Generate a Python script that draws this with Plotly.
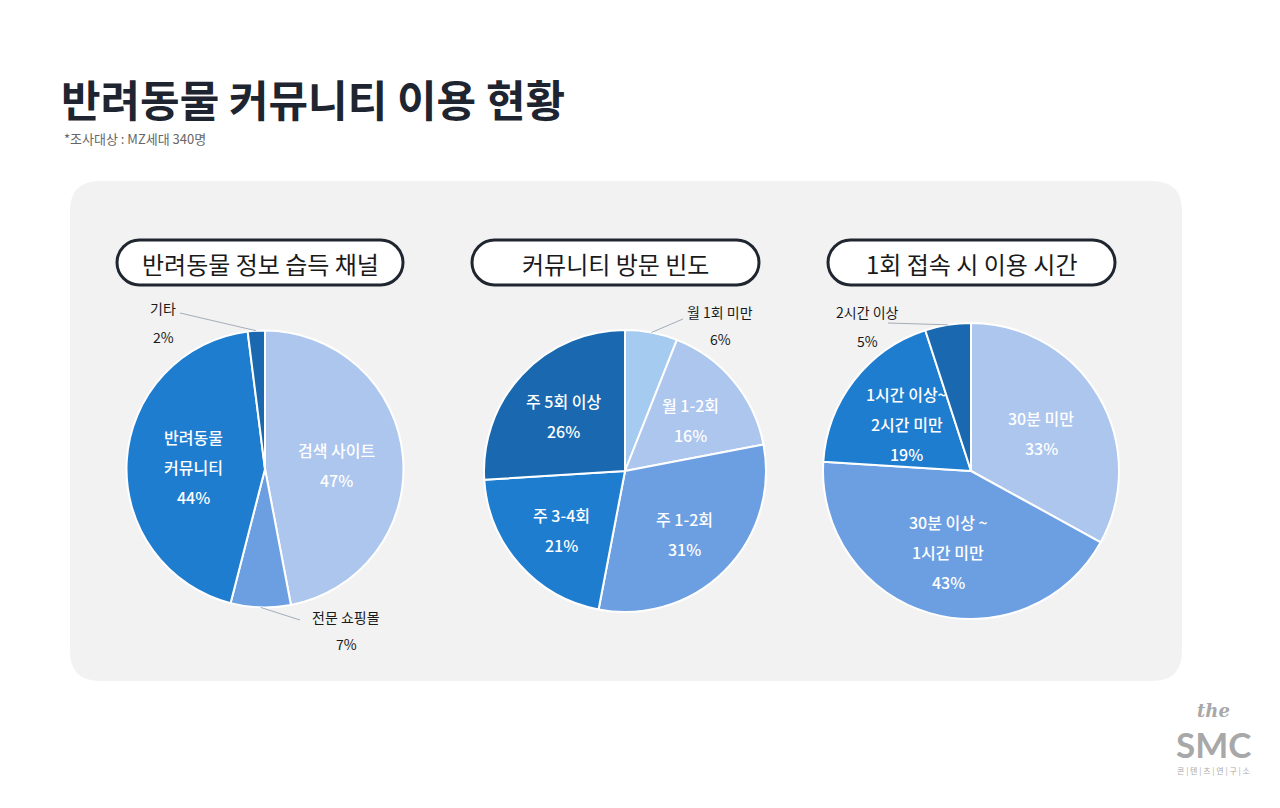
import math
import plotly.graph_objects as go

W, H = 1280, 808
OFF = 8  # the page body margin in the browser

# data
ch1_title = "반려동물 정보 습득 채널"
ch1_labels = ["검색 사이트", "전문 쇼핑몰", "반려동물<br>커뮤니티", "기타"]
ch1_values = [47, 7, 44, 2]

ch2_title = "커뮤니티 방문 빈도"
ch2_labels = ["월 1회 미만", "월 1-2회", "주 1-2회", "주 3-4회", "주 5회 이상"]
ch2_values = [6, 16, 31, 21, 26]

ch3_title = "1회 접속 시 이용 시간"
ch3_labels = ["30분 미만", "30분 이상 ~<br>1시간 미만", "1시간 이상~<br>2시간 미만", "2시간 이상"]
ch3_values = [33, 43, 19, 5]

c_xlight = "#a6cbf0"
c_light = "#adc6ee"
c_mid = "#6c9fe2"
c_blue = "#1f7dd0"
c_dark = "#1a69b0"

ch1_colors = [c_light, c_mid, c_blue, c_dark]
ch2_colors = [c_xlight, c_light, c_mid, c_blue, c_dark]
ch3_colors = [c_light, c_mid, c_blue, c_dark]

FONT = "Noto Sans CJK KR"

# layout: (title, labels, values, colors, center x, center y, radius, inside label factor,
#          outside labels {index: (tail x, tail y, text x, name y, pct y)})
charts = [
    (ch1_title, ch1_labels, ch1_values, ch1_colors, 265, 469, 138.5, 0.52,
     {1: (300, 620, 346, 617, 644), 3: (180, 313, 163, 308, 337)}),
    (ch2_title, ch2_labels, ch2_values, ch2_colors, 625, 471, 141, 0.6,
     {0: (683, 319, 720, 312, 339)}),
    (ch3_title, ch3_labels, ch3_values, ch3_colors, 971, 471, 148, 0.55,
     {3: (888, 323, 867, 312, 341)}),
]
pill_x = [(117, 403), (472, 759), (828, 1115)]

FW, FH = W - 2 * OFF, H - 2 * OFF


def round_rect(x0, y0, x1, y1, r):
    return (f"M {x0+r},{y0} L {x1-r},{y0} Q {x1},{y0} {x1},{y0+r} "
            f"L {x1},{y1-r} Q {x1},{y1} {x1-r},{y1} L {x0+r},{y1} "
            f"Q {x0},{y1} {x0},{y1-r} L {x0},{y0+r} Q {x0},{y0} {x0+r},{y0} Z")


def pill(x0, y0, x1, y1):
    r = (y1 - y0) / 2
    k = 0.5523 * r
    return (f"M {x0+r},{y0} L {x1-r},{y0} C {x1-r+k},{y0} {x1},{y0+r-k} {x1},{y0+r} "
            f"C {x1},{y0+r+k} {x1-r+k},{y1} {x1-r},{y1} L {x0+r},{y1} "
            f"C {x0+r-k},{y1} {x0},{y0+r+k} {x0},{y0+r} "
            f"C {x0},{y0+r-k} {x0+r-k},{y0} {x0+r},{y0} Z")


fig = go.Figure()
shapes = []
annotations = []

# gray panel
shapes.append(dict(type="path", xref="x", yref="y", path=round_rect(70, 181, 1182, 681, 30),
                   fillcolor="#f2f2f2", line=dict(width=0), layer="below"))

for i, (title, labels, values, colors, cx, cy, r, kf, outside) in enumerate(charts):
    fig.add_trace(go.Pie(
        labels=labels, values=values, sort=False, direction="clockwise", rotation=0,
        marker=dict(colors=colors, line=dict(color="white", width=2)),
        textinfo="none", hoverinfo="skip", showlegend=False,
        domain=dict(x=[(cx - r - OFF) / FW, (cx + r - OFF) / FW],
                    y=[1 - (cy + r - OFF) / FH, 1 - (cy - r - OFF) / FH]),
    ))

    # header pill
    px0, px1 = pill_x[i]
    shapes.append(dict(type="path", xref="x", yref="y", path=pill(px0, 240, px1, 285),
                       fillcolor="white", line=dict(color="#1f2630", width=3)))
    annotations.append(dict(x=(px0 + px1) / 2, y=263, xref="x", yref="y", text=title,
                            showarrow=False, font=dict(family=FONT, size=24, color="#1a1a1a")))

    total = sum(values)
    cum = 0
    for j, (lab, v) in enumerate(zip(labels, values)):
        theta = math.radians((cum + v / 2) / total * 360)
        cum += v
        if j in outside:
            tx, ty, lx, ny, py = outside[j]
            ex = cx + r * math.sin(theta)
            ey = cy - r * math.cos(theta)
            shapes.append(dict(type="line", xref="x", yref="y", x0=ex, y0=ey, x1=tx, y1=ty,
                               line=dict(color="#a3adb8", width=1)))
            annotations.append(dict(x=lx, y=ny, xref="x", yref="y", text=lab, showarrow=False,
                                    font=dict(family=FONT, size=14, color="#1a1a1a")))
            annotations.append(dict(x=lx, y=py, xref="x", yref="y", text=f"{v}%", showarrow=False,
                                    font=dict(family=FONT, size=14, color="#1a1a1a")))
        else:
            lx = cx + kf * r * math.sin(theta)
            ly = cy - kf * r * math.cos(theta)
            lines = lab.split("<br>") + [f"{v}%"]
            n = len(lines)
            for m, t in enumerate(lines):
                annotations.append(dict(x=lx, y=ly + 3 + (m - (n - 1) / 2) * 30, xref="x", yref="y",
                                        text=t, showarrow=False,
                                        font=dict(family=FONT, size=16, color="white", weight=500)))

# title and subtitle
annotations.append(dict(x=59, y=98, xref="x", yref="y", xanchor="left", text="<b>반려동물 커뮤니티 이용 현황</b>",
                        showarrow=False, font=dict(family=FONT, size=43, color="#1e2530")))
annotations.append(dict(x=62, y=138, xref="x", yref="y", xanchor="left", text="*조사대상 : MZ세대 340명",
                        showarrow=False, font=dict(family=FONT, size=13, color="#666666")))

# logo
annotations.append(dict(x=1213, y=710, xref="x", yref="y", text="<b><i>the</i></b>",
                        showarrow=False, font=dict(family="DejaVu Serif", size=18, color="#a8a8a8")))
annotations.append(dict(x=1213, y=744, xref="x", yref="y", text="<b>SMC</b>",
                        showarrow=False, font=dict(family="Lato", size=35, color="#a8a8a8")))
annotations.append(dict(x=1213, y=770, xref="x", yref="y", text="콘 | 텐 | 츠 | 연 | 구 | 소",
                        showarrow=False, font=dict(family=FONT, size=8, color="#a8a8a8")))

fig.update_layout(
    width=FW, height=FH, margin=dict(l=0, r=0, t=0, b=0),
    paper_bgcolor="white", plot_bgcolor="rgba(0,0,0,0)",
    xaxis=dict(range=[OFF, W - OFF], visible=False, fixedrange=True),
    yaxis=dict(range=[H - OFF, OFF], visible=False, fixedrange=True),
    shapes=shapes, annotations=annotations,
)

fig.write_html("out.html")
